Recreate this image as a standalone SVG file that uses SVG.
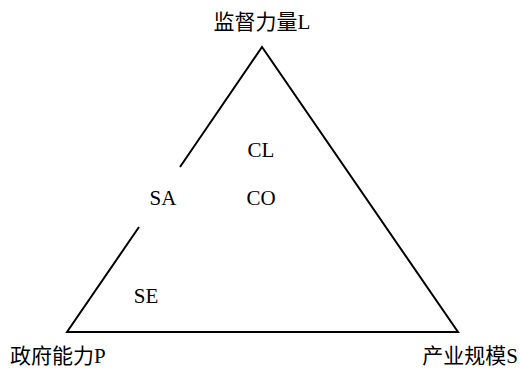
<svg xmlns="http://www.w3.org/2000/svg" width="520" height="368" viewBox="0 0 520 368">
<style>
text{font-family:"Liberation Serif","Noto Sans CJK SC",serif;font-size:21px;fill:#000}
.e{stroke:#000;stroke-width:2;fill:none;stroke-linecap:butt}
</style>
<rect width="520" height="368" fill="#fff"/>
<g id="connectors">
<polyline class="e" points="180,167 262,47 458,332 67,332 139,227"/>
</g>
<g id="L"><text x="262" y="29" text-anchor="middle">监督力量L</text></g>
<g id="P"><text x="10" y="363">政府能力P</text></g>
<g id="S"><text x="518" y="363" text-anchor="end">产业规模S</text></g>
<g id="CL"><text x="261" y="157" text-anchor="middle">CL</text></g>
<g id="SA"><text x="163" y="205" text-anchor="middle">SA</text></g>
<g id="CO"><text x="261" y="205" text-anchor="middle">CO</text></g>
<g id="SE"><text x="146" y="303" text-anchor="middle">SE</text></g>
</svg>
